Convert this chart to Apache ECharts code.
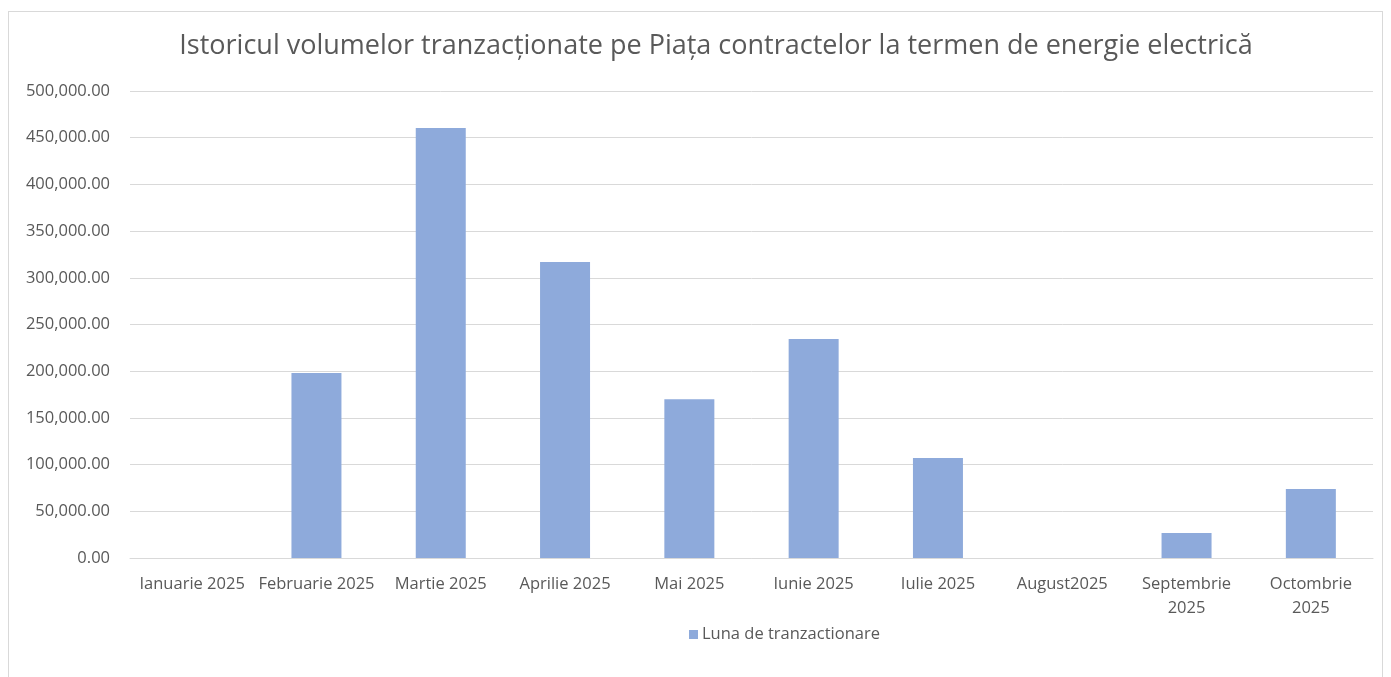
<!DOCTYPE html>
<html>
<head>
<meta charset="utf-8">
<script src="https://cdn.jsdelivr.net/npm/echarts@6/dist/echarts.min.js"></script>
<style>
  html, body { margin: 0; padding: 0; background: #fff; }
  #frame { position: absolute; left: 8px; top: 11px; width: 1375px; height: 700px; border: 1px solid #d9d9d9; box-sizing: border-box; }
  #chart { position: absolute; left: 0; top: 0; width: 1391px; height: 677px; }
</style>
</head>
<body>
<div id="frame"></div>
<div id="chart"></div>
<script>
const months = [
  "Ianuarie 2025", "Februarie 2025", "Martie 2025", "Aprilie 2025", "Mai 2025",
  "Iunie 2025", "Iulie 2025", "August2025", "Septembrie\n2025", "Octombrie\n2025"
];
const volumes = [0, 198000, 460500, 317000, 170000, 234500, 107000, 0, 26800, 74000];

const chart = echarts.init(document.getElementById("chart"));
const textColor = "#595959";
const font = "'Open Sans', 'Noto Sans', sans-serif";

chart.setOption({
  animation: false,
  textStyle: { fontFamily: font },
  title: {
    text: "Istoricul volumelor tranzacționate pe Piața contractelor la termen de energie electrică",
    left: 711,
    textAlign: "center",
    top: 28,
    textStyle: { fontSize: 27, fontWeight: "normal", color: textColor, fontFamily: font }
  },
  legend: {
    data: [{ name: "Luna de tranzactionare", icon: "rect" }],
    left: 684,
    top: 621,
    itemWidth: 9,
    itemHeight: 9,
    itemGap: 5,
    textStyle: { fontSize: 16.5, color: textColor, fontFamily: font, padding: [0, 0, 0, -1] }
  },
  grid: { left: 130, right: 18, top: 91, bottom: 119, containLabel: false },
  xAxis: {
    type: "category",
    data: months,
    axisLine: { lineStyle: { color: "#d9d9d9" } },
    axisTick: { show: false },
    axisLabel: { color: textColor, fontSize: 16.5, interval: 0, margin: 14, lineHeight: 24, fontFamily: font }
  },
  yAxis: {
    type: "value",
    min: 0,
    max: 500000,
    interval: 50000,
    axisLine: { show: false },
    axisTick: { show: false },
    splitLine: { lineStyle: { color: "#d9d9d9" } },
    axisLabel: {
      color: textColor,
      fontSize: 16.5,
      margin: 20,
      fontFamily: font,
      formatter: v => v.toLocaleString("en-US", { minimumFractionDigits: 2, maximumFractionDigits: 2 })
    }
  },
  series: [{
    name: "Luna de tranzactionare",
    type: "bar",
    data: volumes,
    barWidth: 50,
    itemStyle: { color: "#8eaadb" }
  }]
});
</script>
</body>
</html>
